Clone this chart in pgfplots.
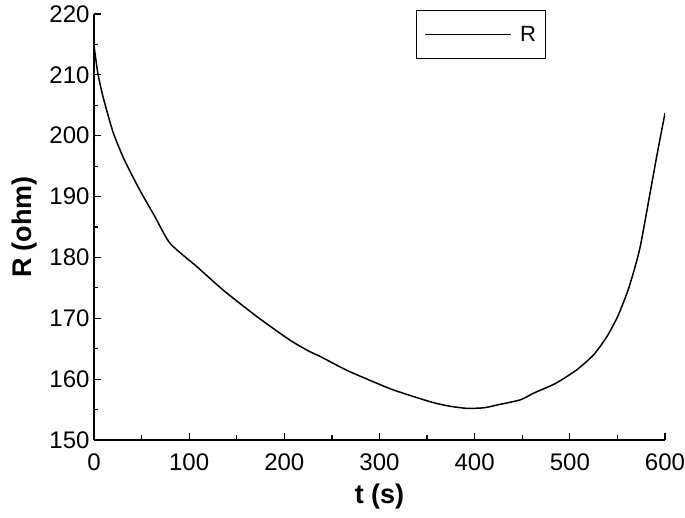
\documentclass[border=0pt]{standalone}
\usepackage{fontspec}
\setmainfont{Liberation Sans}
\usepackage{pgfplots}
\pgfplotsset{compat=1.18}
\begin{document}
\begin{tikzpicture}
\begin{axis}[
  scale only axis,
  width=571pt, height=426pt,
  xmin=0, xmax=600, ymin=150, ymax=220,
  axis x line=bottom, axis y line=left,
  axis line style={-, line width=1.2pt},
  xtick={0,100,...,600}, ytick={150,160,...,220},
  minor x tick num=1, minor y tick num=1,
  tick align=inside,
  major tick length=7pt, minor tick length=4.5pt,
  every tick/.style={black, line width=1.2pt},
  tick label style={font=\fontsize{24}{26}\selectfont},
  /pgf/number format/assume math mode=true,
  /pgf/number format/1000 sep={},
  xticklabel style={yshift=-10pt},
  yticklabel style={xshift=-1pt},
  xlabel={\textbf{t (s)}},
  ylabel={\textbf{R (ohm)}},
  label style={font=\fontsize{27}{30}\selectfont},
  xlabel style={at={(axis description cs:0.5,-0.133)}, anchor=center},
  ylabel style={at={(axis description cs:-0.121,0.5)}, anchor=center, rotate=0},
  legend style={at={(axis description cs:0.564,1.01)}, anchor=north west,
    draw=black, line width=1pt, font=\fontsize{22}{24}\selectfont,
    inner xsep=8pt, inner ysep=14pt, column sep=6pt},
  legend cell align=left,
  legend image code/.code={\draw[line width=1.5pt] (0pt,0pt) -- (86pt,0pt);},
]
\addplot[black, line width=1.5pt, smooth, tension=0.4] coordinates {
(0,214.8) (4,210.3) (9.5,206.4) (20,200.6) (32,196.0) (48,191.1) (64,186.7)
(80,182.3) (108,178.5) (136,174.6) (171,170.3) (206,166.4) (227,164.5)
(238,163.7) (265,161.5) (290,159.8) (315,158.2) (353,156.3) (372,155.6)
(392,155.2) (410,155.3) (425,155.8) (448,156.6) (462,157.7) (485,159.3)
(507,161.5) (525,164.0) (539,167.0) (550,170.2) (560,174.1) (567,177.6)
(574,181.8) (584,190.3) (592,197.2) (600,203.7)
};
\addlegendentry{R}
\end{axis}
\pgfresetboundingbox
\path[use as bounding box] (-94pt,-78pt) rectangle (591pt,440pt);
\end{tikzpicture}
\end{document}
